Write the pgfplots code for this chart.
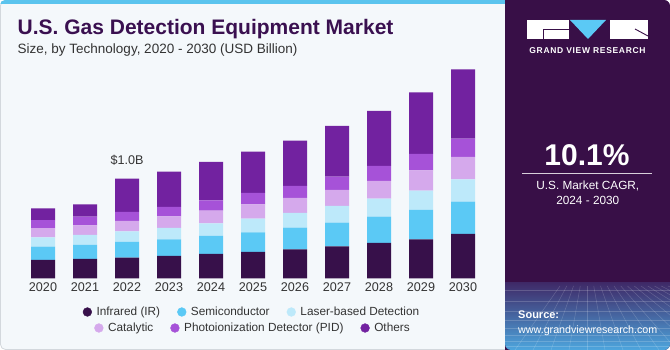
\documentclass[border=0pt]{standalone}
\usepackage{pgfplots}
\pgfplotsset{compat=1.18}
\usepackage{pgfplotstable}
\usepackage{fontspec}
\setmainfont{Liberation Sans}
\newfontfamily\logofont[LetterSpace=8]{Liberation Sans}
\definecolor{irc}{HTML}{37104A}
\definecolor{semic}{HTML}{5BC9F5}
\definecolor{laserc}{HTML}{BDE9FA}
\definecolor{catc}{HTML}{D5A9EC}
\definecolor{pidc}{HTML}{A652D8}
\definecolor{othc}{HTML}{7222A0}
\definecolor{bgc}{HTML}{F4F8FB}
\definecolor{bordc}{HTML}{D3D8DD}
\definecolor{stripc}{HTML}{5BC4EE}
\definecolor{panelc}{HTML}{380F47}
\definecolor{paneltop}{HTML}{3F2A68}
\definecolor{panelmid}{HTML}{4660A2}
\definecolor{panelbot}{HTML}{4DA6DE}
\definecolor{titlec}{HTML}{3A1050}
\definecolor{txtc}{HTML}{333333}
\pgfplotstableread{
x ir semi laser cat pid oth
0 0.183 0.133 0.093 0.093 0.080 0.117
1 0.193 0.140 0.100 0.097 0.087 0.123
2 0.206 0.157 0.107 0.103 0.090 0.334
3 0.223 0.167 0.113 0.117 0.093 0.353
4 0.243 0.180 0.127 0.127 0.103 0.383
5 0.263 0.197 0.137 0.143 0.113 0.413
6 0.290 0.216 0.147 0.150 0.120 0.453
7 0.320 0.236 0.167 0.160 0.133 0.507
8 0.353 0.263 0.180 0.177 0.150 0.550
9 0.390 0.293 0.193 0.204 0.163 0.617
10 0.443 0.323 0.223 0.224 0.183 0.694
}\datatable
\begin{document}
\begin{tikzpicture}[x=1pt,y=1pt]
\path[use as bounding box] (0,0) rectangle (670,350);
\fill[white] (0,0) rectangle (670,350);
% left panel
\filldraw[fill=bgc, draw=bordc, line width=0.8pt, rounded corners=5pt] (0.5,0.5) rectangle (530,349.5);
\begin{scope}
\clip[rounded corners=5pt] (0,0) rectangle (530,350);
\fill[stripc] (0,345.5) rectangle (530,350);
\end{scope}
% right panel
\fill[panelc, rounded corners=6pt] (505,0) rectangle (670,350);
\fill[panelc] (505,0) rectangle (520,350);
\begin{scope}
\clip[rounded corners=6pt] (505,0) rectangle (670,350);
\fill[panelc] (505,0) rectangle (520,350);
\shade[top color=paneltop, middle color=panelmid, bottom color=panelbot] (505,0) rectangle (670,67);
\foreach \yy in {4,9,15,22,30,39,49,60} {\draw[white, opacity=0.18, line width=0.5pt] (505,\yy) -- (670,\yy);}
\foreach \xx in {-60,-45,-30,-15,0,15,30,45,60,75,90,105,120,135,150,165,180,195,210,225} {\draw[white, opacity=0.18, line width=0.5pt] (587+\xx*0.45,64) -- (587+\xx*1.2,0);}
\end{scope}
% logo
\fill[white] (527,311) rectangle (569,330);
\draw[panelc, line width=0.9pt] (543,320.5) -- (569,320.5);
\draw[panelc, line width=0.9pt] (543.4,320.5) -- (543.4,311);
\fill[semic] (570,330) -- (606,330) -- (588,311) -- cycle;
\fill[white] (610,311) rectangle (648,330);
\draw[panelc, line width=0.9pt] (635,321) -- (648,314);
\node[anchor=base, text=white, inner sep=0pt] at (587.5,296) {\logofont\bfseries\fontsize{8.5}{10}\selectfont GRAND VIEW RESEARCH};
% CAGR
\node[anchor=base, text=white, inner sep=0pt] at (587,184.3) {\bfseries\fontsize{30}{34}\selectfont 10.1\%};
\draw[white!80!panelc, line width=1.1pt] (522,176.7) -- (652,176.7);
\node[anchor=base, text=white, inner sep=0pt] at (587.8,160.7) {\fontsize{11.8}{14}\selectfont U.S. Market CAGR,};
\node[anchor=base, text=white, inner sep=0pt] at (587.8,145.3) {\fontsize{11.8}{14}\selectfont 2024 - 2030};
\node[anchor=base west, text=white, inner sep=0pt] at (518,31.7) {\bfseries\fontsize{11}{13}\selectfont Source:};
\node[anchor=base west, text=white, inner sep=0pt] at (518,16.7) {\fontsize{10.7}{13}\selectfont www.grandviewresearch.com};
% titles
\node[anchor=base west, text=titlec, inner sep=0pt] at (17.5,315) {\bfseries\fontsize{21}{24}\selectfont U.S. Gas Detection Equipment Market};
\node[anchor=base west, text=txtc, inner sep=0pt] at (17.5,296) {\fontsize{13.5}{16}\selectfont Size, by Technology, 2020 - 2030 (USD Billion)};
\begin{axis}[
  at={(22pt,71.7pt)}, anchor=south west,
  scale only axis, width=462pt, height=220pt,
  ybar stacked, bar width=24pt,
  xmin=-0.5, xmax=10.5, ymin=0, ymax=2.2,
  axis line style={draw=none}, tick style={draw=none},
  ytick=\empty,
  xtick={0,...,10},
  xticklabels={2020,2021,2022,2023,2024,2025,2026,2027,2028,2029,2030},
  xticklabel style={font=\fontsize{12.6}{14}\selectfont, text=txtc, yshift=-1pt},
  clip=false,
]
\addplot[fill=irc, draw=none] table[x=x, y=ir] {\datatable};
\addplot[fill=semic, draw=none] table[x=x, y=semi] {\datatable};
\addplot[fill=laserc, draw=none] table[x=x, y=laser] {\datatable};
\addplot[fill=catc, draw=none] table[x=x, y=cat] {\datatable};
\addplot[fill=pidc, draw=none] table[x=x, y=pid] {\datatable};
\addplot[fill=othc, draw=none] table[x=x, y=oth] {\datatable};
\node[anchor=base, text=txtc, inner sep=0pt] at (axis cs:2,1.0) [yshift=13.7pt] {\fontsize{12.6}{14}\selectfont \$1.0B};
\end{axis}
% legends
\begin{axis}[
  at={(0pt,0pt)}, anchor=south west, scale only axis, width=670pt, height=350pt,
  hide axis, xmin=0, xmax=670, ymin=0, ymax=350,
  legend columns=-1,
  legend style={at={(252/670,38/350)}, anchor=center, draw=none, fill=none,
    font=\fontsize{11.8}{14}\selectfont, text=txtc, inner sep=0pt,
    /tikz/every even column/.append style={column sep=15pt}},
]
\addlegendimage{irc, legend image code/.code={\fill (0pt,0pt) circle (4.4pt); \path (7pt,0pt);}}
\addlegendentry{Infrared (IR)}
\addlegendimage{semic, legend image code/.code={\fill (0pt,0pt) circle (4.4pt); \path (7pt,0pt);}}
\addlegendentry{Semiconductor}
\addlegendimage{laserc, legend image code/.code={\fill (0pt,0pt) circle (4.4pt); \path (7pt,0pt);}}
\addlegendentry{Laser-based Detection}
\end{axis}
\begin{axis}[
  at={(0pt,0pt)}, anchor=south west, scale only axis, width=670pt, height=350pt,
  hide axis, xmin=0, xmax=670, ymin=0, ymax=350,
  legend columns=-1,
  legend style={at={(253/670,22/350)}, anchor=center, draw=none, fill=none,
    font=\fontsize{11.8}{14}\selectfont, text=txtc, inner sep=0pt,
    /tikz/every even column/.append style={column sep=15pt}},
]
\addlegendimage{catc, legend image code/.code={\fill (0pt,0pt) circle (4.4pt); \path (7pt,0pt);}}
\addlegendentry{Catalytic}
\addlegendimage{pidc, legend image code/.code={\fill (0pt,0pt) circle (4.4pt); \path (7pt,0pt);}}
\addlegendentry{Photoionization Detector (PID)}
\addlegendimage{othc, legend image code/.code={\fill (0pt,0pt) circle (4.4pt); \path (7pt,0pt);}}
\addlegendentry{Others}
\end{axis}
\end{tikzpicture}
\end{document}
